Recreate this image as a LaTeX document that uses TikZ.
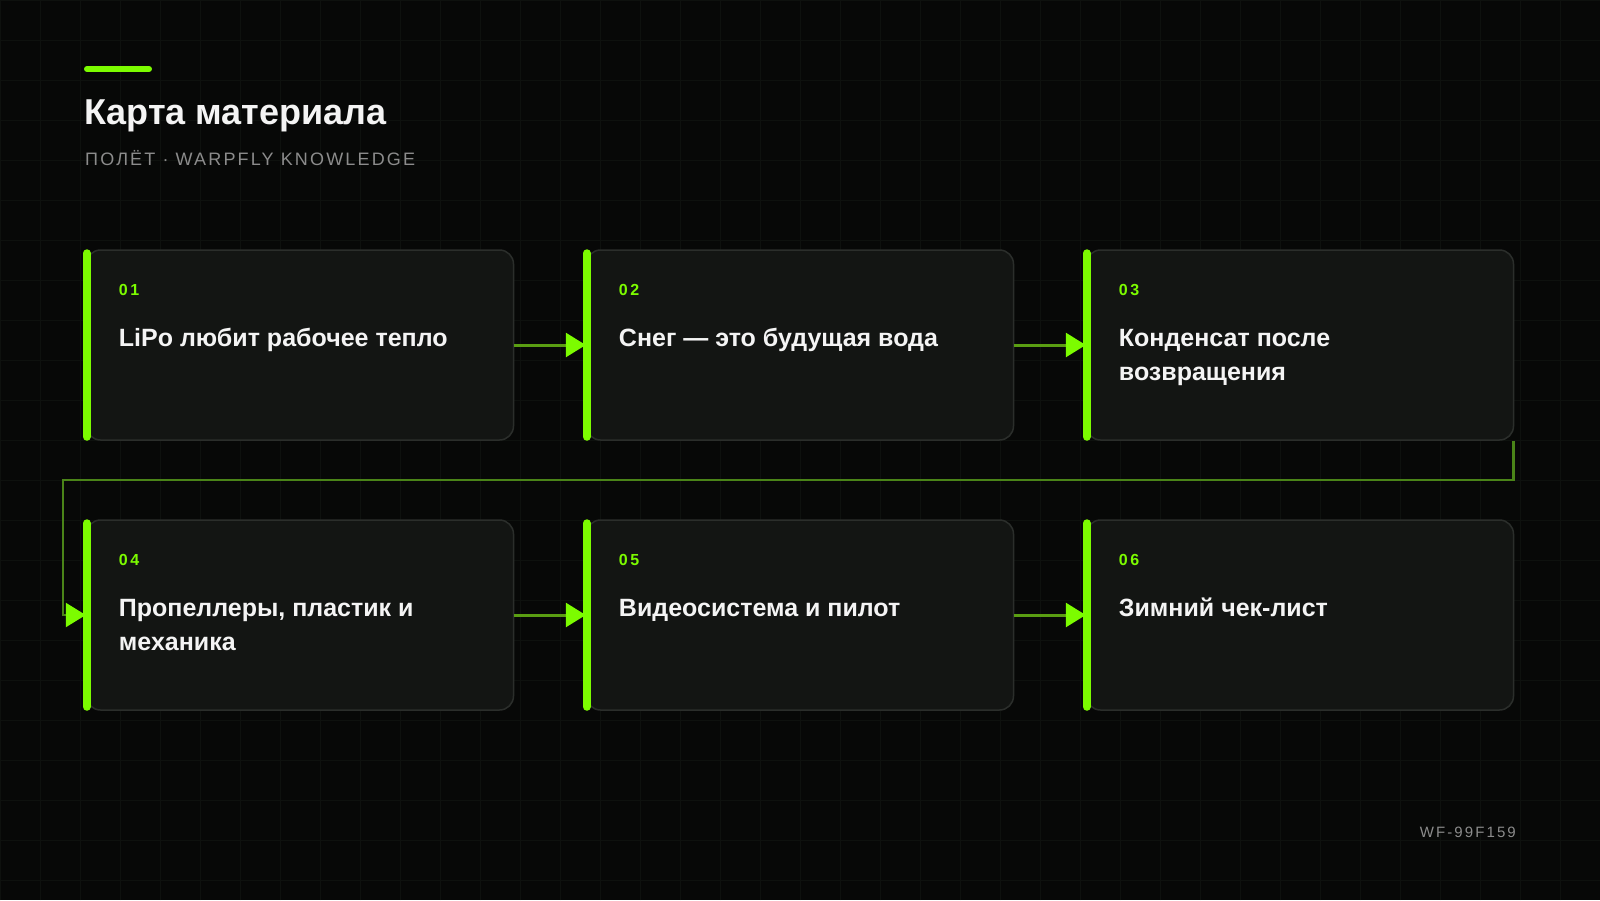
\documentclass[tikz,border=0pt]{standalone}
\usepackage{fontspec}
\setmainfont{Liberation Sans}
\newfontfamily\tracked[LetterSpace=12]{Liberation Sans}
\newfontfamily\trackedcode[LetterSpace=14]{Liberation Sans}
\newfontfamily\trackednum[LetterSpace=16]{Liberation Sans}
\usetikzlibrary{positioning}
\usetikzlibrary{calc}
\usetikzlibrary{arrows.meta}

\definecolor{bg}{HTML}{070807}
\definecolor{gridcol}{HTML}{0E110E}
\definecolor{cardfill}{HTML}{131513}
\definecolor{cardline}{HTML}{2B2E2B}
\definecolor{accent}{HTML}{7CFC00}
\definecolor{accentdim}{HTML}{5A9E12}
\definecolor{accentdark}{HTML}{4A8418}
\definecolor{titlecol}{HTML}{F4F4F4}
\definecolor{subcol}{HTML}{8C8C8C}

\tikzset{
    card/.style={draw=cardline, fill=cardfill, line width=1.5pt, rounded corners=14pt,
        minimum width=427pt, minimum height=190pt, inner sep=0pt},
    bar/.style={draw=accent, line width=8pt, line cap=round},
    num/.style={anchor=base west, inner sep=0pt, text=accent, font=\trackednum\bfseries\fontsize{16}{16}\selectfont},
    heading/.style={anchor=base west, inner sep=0pt, text=titlecol, align=left, font=\bfseries\fontsize{25}{34}\selectfont},
    link/.style={draw=accentdim, line width=3pt, -{Triangle[length=20pt, width=24pt, color=accent, fill=accent]}},
    longlink/.style={draw=accentdark, line width=2.5pt, -{Triangle[length=20pt, width=24pt, color=accent, fill=accent]}},
}

\begin{document}
\begin{tikzpicture}[x=1pt, y=-1pt]
    % page and faint grid
    \fill[bg] (0,0) rectangle (1600,900);
    \useasboundingbox (0,0) rectangle (1600,900);
    \draw[gridcol, line width=0.8pt, xstep=40pt, ystep=40pt] (0,900) grid (1600,0);

    % header
    \draw[accent, line width=6pt, line cap=round] (87,69) -- (149,69);
    \node[anchor=base west, inner sep=0pt, text=titlecol, font=\bfseries\fontsize{36}{36}\selectfont] (title) at (84,124) {Карта материала};
    \node[anchor=base west, inner sep=0pt, text=subcol, font=\tracked\fontsize{18}{18}\selectfont] (subtitle) at (85,165) {ПОЛЁТ · WARPFLY KNOWLEDGE};

    % cards
    \node[card] (b1) at (300,345) {};
    \node[card] (b2) at (800,345) {};
    \node[card] (b3) at (1300,345) {};
    \node[card] (b4) at (300,615) {};
    \node[card] (b5) at (800,615) {};
    \node[card] (b6) at (1300,615) {};

    \draw[bar] ([xshift=1pt, yshift=-4pt]b1.north west) -- ([xshift=1pt, yshift=4pt]b1.south west);
    \draw[bar] ([xshift=1pt, yshift=-4pt]b2.north west) -- ([xshift=1pt, yshift=4pt]b2.south west);
    \draw[bar] ([xshift=1pt, yshift=-4pt]b3.north west) -- ([xshift=1pt, yshift=4pt]b3.south west);
    \draw[bar] ([xshift=1pt, yshift=-4pt]b4.north west) -- ([xshift=1pt, yshift=4pt]b4.south west);
    \draw[bar] ([xshift=1pt, yshift=-4pt]b5.north west) -- ([xshift=1pt, yshift=4pt]b5.south west);
    \draw[bar] ([xshift=1pt, yshift=-4pt]b6.north west) -- ([xshift=1pt, yshift=4pt]b6.south west);

    \node[num] (n1) at ($(b1.north west)+(33,46)$) {01};
    \node[num] (n2) at ($(b2.north west)+(33,46)$) {02};
    \node[num] (n3) at ($(b3.north west)+(33,46)$) {03};
    \node[num] (n4) at ($(b4.north west)+(33,46)$) {04};
    \node[num] (n5) at ($(b5.north west)+(33,46)$) {05};
    \node[num] (n6) at ($(b6.north west)+(33,46)$) {06};

    % two-line titles sit on their last baseline
    \node[heading] (t1) at ($(b1.north west)+(33,97)$) {LiPo любит рабочее тепло};
    \node[heading] (t2) at ($(b2.north west)+(33,97)$) {Снег — это будущая вода};
    \node[heading] (t3) at ($(b3.north west)+(33,131)$) {Конденсат после\\возвращения};
    \node[heading] (t4) at ($(b4.north west)+(33,131)$) {Пропеллеры, пластик и\\механика};
    \node[heading] (t5) at ($(b5.north west)+(33,97)$) {Видеосистема и пилот};
    \node[heading] (t6) at ($(b6.north west)+(33,97)$) {Зимний чек-лист};

    % connectors
    \draw[link] (b1.east) -- (b2.west);
    \draw[link] (b2.east) -- (b3.west);
    \draw[link] (b4.east) -- (b5.west);
    \draw[link] (b5.east) -- (b6.west);

    \coordinate (turn) at (63,480);
    \draw[longlink] ([xshift=-1pt]b3.south east) |- (turn) |- (b4.west);

    % footer
    \node[anchor=base east, inner sep=0pt, text=subcol, font=\trackedcode\fontsize{15}{15}\selectfont] (code) at (1516,837) {WF-99F159};
\end{tikzpicture}
\end{document}
